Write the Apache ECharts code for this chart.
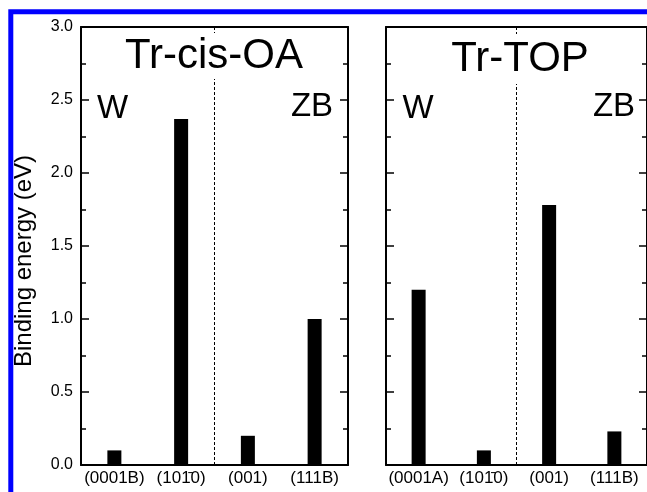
<!DOCTYPE html>
<html>
<head>
<meta charset="utf-8">
<script src="https://cdn.jsdelivr.net/npm/echarts@6/dist/echarts.min.js"></script>
<style>
html,body{margin:0;padding:0;background:#fff;}
#chart{width:647px;height:492px;}
</style>
</head>
<body>
<div id="chart"></div>
<script>
// ---- data ----
const panelTitles = ['Tr-cis-OA', 'Tr-TOP'];
const categoriesOA = ['(0001B)', '(101\u03040)', '(001)', '(111B)'];
const valuesOA = [0.10, 2.37, 0.20, 1.00];
const categoriesTOP = ['(0001A)', '(101\u03040)', '(001)', '(111B)'];
const valuesTOP = [1.20, 0.10, 1.78, 0.23];
const phaseLabels = ['W', 'ZB'];
const yMin = 0, yMax = 3.0, yInterval = 0.5;
const yAxisName = 'Binding energy (eV)';

const FONT = '"Liberation Sans", Arial, sans-serif';
const chart = echarts.init(document.getElementById('chart'), null, {renderer: 'canvas'});

const grids = [
  {left: 81, top: 27, width: 267, height: 438},
  {left: 386, top: 27, width: 267, height: 438}
];
const cats = [categoriesOA, categoriesTOP];
const vals = [valuesOA, valuesTOP];

const axisLine = {show: true, onZero: false, lineStyle: {color: '#000', width: 2}};
const xAxes = [], yAxes = [], series = [];
grids.forEach((g, i) => {
  xAxes.push({
    gridIndex: i, type: 'category', data: cats[i], position: 'bottom',
    axisLine: axisLine, axisTick: {show: false},
    axisLabel: {color: '#000', fontSize: 17, fontFamily: FONT, margin: 5, interval: 0},
    splitLine: {show: false}
  });
  xAxes.push({
    gridIndex: i, type: 'category', data: cats[i], position: 'top',
    axisLine: axisLine, axisTick: {show: false}, axisLabel: {show: false}, splitLine: {show: false}
  });
  // hidden helper axis for the W | ZB divider
  xAxes.push({
    gridIndex: i, type: 'value', min: 0, max: 4, interval: 2, position: 'bottom',
    axisLine: {show: false}, axisTick: {show: false}, axisLabel: {show: false},
    splitLine: {show: true, showMinLine: false, showMaxLine: false,
      lineStyle: {color: '#000', width: 1, type: [3, 2]}}
  });
  const common = {
    gridIndex: i, type: 'value', min: yMin, max: yMax, interval: yInterval,
    axisLine: axisLine,
    axisTick: {show: true, inside: true, length: 8, lineStyle: {color: '#000', width: 1.5}},
    minorTick: {show: true, splitNumber: 2, length: 5, lineStyle: {color: '#000', width: 1.5}},
    splitLine: {show: false}
  };
  yAxes.push(Object.assign({}, common, {
    position: 'left',
    axisLabel: {show: i === 0, color: '#000', fontSize: 16, fontFamily: FONT, margin: 8,
      formatter: v => v.toFixed(1)}
  }));
  yAxes.push(Object.assign({}, common, {position: 'right', axisLabel: {show: false}}));
  series.push({
    type: 'bar', xAxisIndex: i * 3, yAxisIndex: i * 2, data: vals[i],
    barWidth: 14, itemStyle: {color: '#000'}, silent: true, animation: false
  });
});

const txt = (text, x, y, size, extra) => ({
  type: 'text', z: 100, x: x, y: y,
  style: Object.assign({text: text, fill: '#000', font: size + 'px ' + FONT,
    textAlign: 'center', textVerticalAlign: 'middle'}, extra || {})
});

const graphic = [
  {type: 'rect', z: 200, shape: {x: 10.8, y: 11.7, width: 800, height: 700},
   style: {fill: 'none', stroke: '#0000ff', lineWidth: 5}},
  txt(panelTitles[0], 214, 56, 42, {backgroundColor: '#fff', lineHeight: 46, padding: [0, 2]}),
  txt(panelTitles[1], 520, 59, 42, {backgroundColor: '#fff', lineHeight: 50, padding: [0, 2]}),
  txt(phaseLabels[0], 112.5, 108.5, 33),
  txt(phaseLabels[1], 312, 107, 33),
  txt(phaseLabels[0], 418, 108.5, 33),
  txt(phaseLabels[1], 614, 107, 33),
  {type: 'text', z: 100, x: 24, y: 261, rotation: Math.PI / 2,
   style: {text: yAxisName, fill: '#000', font: '24px ' + FONT, textAlign: 'center', textVerticalAlign: 'middle'}}
];

chart.setOption({
  animation: false,
  backgroundColor: '#fff',
  grid: grids,
  xAxis: xAxes,
  yAxis: yAxes,
  series: series,
  graphic: graphic
});
</script>
</body>
</html>
